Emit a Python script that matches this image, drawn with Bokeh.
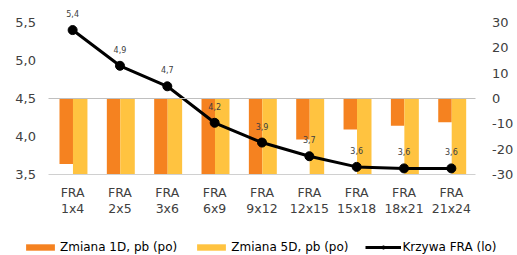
from bokeh.plotting import figure
from bokeh.models import (ColumnDataSource, Range1d, LinearAxis, CategoricalAxis, FixedTicker,
                          Legend, LegendItem, CustomJSTickFormatter, FactorRange)
from bokeh.transform import dodge
from bokeh.core.properties import value
from bokeh.embed import file_html
from bokeh.resources import INLINE

# ---- data ----
tenors = ["1x4", "2x5", "3x6", "6x9", "9x12", "12x15", "15x18", "18x21", "21x24"]
categories = ["FRA\n" + t for t in tenors]
curve_fra = [5.40, 4.93, 4.66, 4.18, 3.92, 3.74, 3.60, 3.58, 3.58]   # left axis (lo)
change_1d = [-25.8, -34.0, -33.0, -32.0, -31.0, -16.2, -12.2, -10.7, -9.4]   # right axis (po)
change_5d = [-40.0, -42.0, -41.0, -38.0, -36.0, -34.0, -33.0, -32.0, -31.0]  # right axis (po)
left_ticks = [3.5, 4.0, 4.5, 5.0, 5.5]
right_ticks = [-30, -20, -10, 0, 10, 20, 30]
series_names = ["Zmiana 1D, pb (po)", "Zmiana 5D, pb (po)", "Krzywa FRA (lo)"]

LEFT_MIN, RIGHT_MIN = 3.5, -30          # axis minima (bars are cut off there, as in the source)
curve_labels = [f"{v:.1f}".replace(".", ",") for v in curve_fra]
d1_shown = [max(v, RIGHT_MIN) for v in change_1d]
d5_shown = [max(v, RIGHT_MIN) for v in change_5d]

FONT = "DejaVu Sans"
TXT = "#404040"
ORANGE = "#F58220"
YELLOW = "#FFC340"
AXIS_GREY = "#D0D0D0"

src = ColumnDataSource(dict(cat=categories, curve=curve_fra, d1=d1_shown, d5=d5_shown,
                            lab=curve_labels, zero=[0] * len(categories)))

NCAT = len(categories)
p = figure(width=517, height=255,
           x_range=FactorRange(*categories, range_padding=0.1993),
           y_range=Range1d(2.434, 5.789), output_backend="svg", toolbar_location=None,
           min_border_left=6, min_border_right=0, min_border_top=0, min_border_bottom=0,
           x_axis_location=None, y_axis_location=None)
p.extra_y_ranges = {"right": Range1d(-61.97, 38.7)}
p.outline_line_color = None
p.xgrid.visible = False
p.ygrid.visible = False
p.background_fill_color = "white"
p.border_fill_color = "white"

r1 = p.vbar(x=dodge("cat", -0.135, range=p.x_range), top="zero", bottom="d1", width=0.285,
            source=src, y_range_name="right", fill_color=ORANGE, line_color=None)
r5 = p.vbar(x=dodge("cat", 0.16, range=p.x_range), top="zero", bottom="d5", width=0.306,
            source=src, y_range_name="right", fill_color=YELLOW, line_color=None)

rl = p.line(x="cat", y="curve", source=src, line_color="black", line_width=3)
rs = p.scatter(x="cat", y="curve", source=src, size=9, fill_color="black", line_color="black")

p.text(x="cat", y="curve", text="lab", source=src, y_offset=-16.5, text_align="center",
       text_baseline="middle", text_font=value(FONT), text_font_size="8px", text_color=TXT)

# zero line of the bar series (secondary category axis, no labels)
za = CategoricalAxis(y_range_name="right", fixed_location=0, bounds=(0, NCAT))
za.axis_line_color = "#BFBFBF"
za.major_tick_line_color = None
za.minor_tick_line_color = None
za.major_label_text_alpha = 0
za.major_label_text_font_size = "1px"
p.add_layout(za, "below")

# left axis (lo)
ya = LinearAxis(ticker=FixedTicker(ticks=left_ticks), fixed_location=0)
ya.formatter = CustomJSTickFormatter(code="return tick.toFixed(1).replace('.', ',');")
ya.axis_line_color = None
ya.major_tick_line_color = None
ya.minor_tick_line_color = None
ya.major_label_standoff = 7
ya.major_label_text_font = FONT
ya.major_label_text_font_size = "13px"
ya.major_label_text_color = TXT
p.add_layout(ya, "left")

# right axis (po)
ra = LinearAxis(y_range_name="right", ticker=FixedTicker(ticks=right_ticks), fixed_location=NCAT)
ra.formatter = CustomJSTickFormatter(code="return tick.toFixed(0);")
ra.axis_line_color = None
ra.major_tick_line_color = None
ra.minor_tick_line_color = None
ra.major_label_standoff = 11
ra.major_label_text_font = FONT
ra.major_label_text_font_size = "13px"
ra.major_label_text_color = TXT
p.add_layout(ra, "right")

# category axis at the bottom of the chart
xa = CategoricalAxis(fixed_location=LEFT_MIN, bounds=(0, NCAT))
xa.axis_line_color = AXIS_GREY
xa.axis_line_width = 1
xa.major_tick_line_color = None
xa.minor_tick_line_color = None
xa.major_label_standoff = 5
xa.major_label_text_font = FONT
xa.major_label_text_font_size = "12.5px"
xa.major_label_text_color = TXT
xa.major_label_text_line_height = 1.05
xa.major_label_orientation = "horizontal"
p.add_layout(xa, "below")

legend = Legend(items=[LegendItem(label=series_names[0], renderers=[r1]),
                       LegendItem(label=series_names[1], renderers=[r5]),
                       LegendItem(label=series_names[2], renderers=[rl, rs])],
                orientation="horizontal", location=(16, 1.5),
                glyph_width=36, glyph_height=8, label_height=12, label_standoff=2,
                spacing=16, padding=0, margin=0, border_line_color=None,
                background_fill_alpha=0, label_text_font=FONT,
                label_text_font_size="12px", label_text_color="black")
p.add_layout(legend, "center")

open("out.html", "w").write(file_html(p, INLINE))
